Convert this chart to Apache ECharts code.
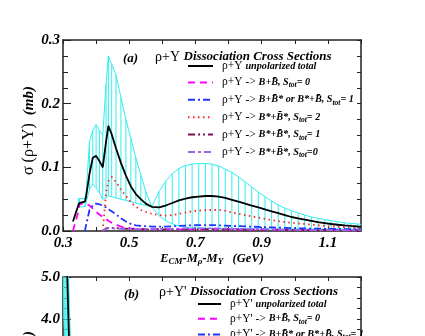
<!DOCTYPE html>
<html>
<head>
<meta charset="utf-8">
<script src="https://cdn.jsdelivr.net/npm/echarts@6.0.0/dist/echarts.min.js"></script>
<style>
html, body { margin: 0; padding: 0; background: #fff; overflow: hidden; }
/* taller than the window: panel (b) is cut off at the bottom like in the original */
#chart { width: 425px; height: 520px; }
</style>
</head>
<body>
<div id="chart"></div>
<script>
// panel (a): rho + Upsilon, energy above threshold in GeV
const energyA = [0.33, 0.346, 0.35, 0.366, 0.37, 0.38, 0.39, 0.40, 0.41, 0.42, 0.43, 0.437, 0.447, 0.46, 0.475, 0.49, 0.505, 0.52, 0.535, 0.55, 0.568, 0.59, 0.61, 0.63, 0.65, 0.67, 0.69, 0.71, 0.73, 0.75, 0.77, 0.79, 0.81, 0.83, 0.85, 0.87, 0.89, 0.91, 0.93, 0.95, 0.97, 0.99, 1.01, 1.03, 1.05, 1.07, 1.09, 1.11, 1.13, 1.15, 1.17, 1.19, 1.2];
const totalA    = [0.015, 0.040, 0.044, 0.046, 0.055, 0.090, 0.115, 0.118, 0.110, 0.100, 0.140, 0.165, 0.152, 0.130, 0.107, 0.087, 0.070, 0.058, 0.050, 0.043, 0.038, 0.037, 0.040, 0.044, 0.048, 0.051, 0.053, 0.054, 0.055, 0.055, 0.054, 0.052, 0.049, 0.046, 0.043, 0.040, 0.037, 0.034, 0.031, 0.028, 0.025, 0.022, 0.020, 0.018, 0.016, 0.014, 0.0125, 0.011, 0.0098, 0.0088, 0.0079, 0.0071, 0.0068];
const bandHighA = [null, 0.051, 0.051, 0.051, 0.060, 0.140, 0.158, 0.167, 0.158, 0.150, 0.230, 0.275, 0.262, 0.245, 0.210, 0.175, 0.145, 0.115, 0.088, 0.062, 0.038, 0.062, 0.078, 0.090, 0.098, 0.103, 0.105, 0.106, 0.106, 0.105, 0.102, 0.097, 0.092, 0.085, 0.077, 0.069, 0.061, 0.054, 0.047, 0.041, 0.036, 0.032, 0.028, 0.025, 0.022, 0.020, 0.018, 0.016, 0.0145, 0.013, 0.012, 0.011, 0.0105];
const bandLowA  = [null, 0.038, 0.038, 0.038, 0.045, 0.065, 0.074, 0.068, 0.060, 0.050, 0.052, 0.055, 0.054, 0.052, 0.050, 0.048, 0.046, 0.044, 0.042, 0.040, 0.038, 0.024, 0.016, 0.011, 0.008, 0.006, 0.005, 0.0045, 0.004, 0.004, 0.004, 0.004, 0.0038, 0.0036, 0.0035, 0.0034, 0.0033, 0.0032, 0.0031, 0.003, 0.003, 0.003, 0.003, 0.003, 0.003, 0.003, 0.003, 0.003, 0.003, 0.003, 0.003, 0.003, 0.003];
const bbS0A     = [0.0, 0.030, 0.042, 0.044, 0.043, 0.040, 0.035, 0.030, 0.026, 0.022, 0.019, 0.016, 0.013, 0.010, 0.007, 0.005, 0.004, 0.0035, 0.003, 0.0028, 0.0026, 0.0025, 0.0025, 0.0025, 0.0025, 0.0025, 0.0025, 0.0025, 0.0025, 0.0025, 0.0025, 0.0024, 0.0024, 0.0023, 0.0023, 0.0022, 0.0022, 0.0021, 0.0021, 0.002, 0.002, 0.002, 0.0019, 0.0019, 0.0018, 0.0018, 0.0017, 0.0017, 0.0016, 0.0016, 0.0015, 0.0015, 0.0015];
const bbstarS1A = [null, null, null, 0.0, 0.010, 0.033, 0.040, 0.043, 0.042, 0.040, 0.037, 0.034, 0.031, 0.026, 0.020, 0.015, 0.011, 0.009, 0.008, 0.0075, 0.007, 0.007, 0.007, 0.0075, 0.008, 0.0085, 0.009, 0.0092, 0.0093, 0.0092, 0.009, 0.0085, 0.008, 0.0076, 0.0072, 0.0068, 0.0064, 0.006, 0.0056, 0.0052, 0.0049, 0.0046, 0.0043, 0.004, 0.0038, 0.0036, 0.0034, 0.0033, 0.0032, 0.0031, 0.003, 0.003, 0.003];
const bsbsS2A   = [null, null, null, null, null, null, null, null, null, 0.0, 0.060, 0.078, 0.085, 0.077, 0.065, 0.055, 0.045, 0.038, 0.033, 0.030, 0.027, 0.025, 0.024, 0.025, 0.027, 0.029, 0.031, 0.032, 0.033, 0.033, 0.033, 0.032, 0.029, 0.027, 0.025, 0.023, 0.021, 0.019, 0.017, 0.0155, 0.014, 0.013, 0.012, 0.011, 0.010, 0.009, 0.008, 0.007, 0.0065, 0.006, 0.0055, 0.005, 0.005];
const bsbsS1A   = [null, null, null, null, null, null, null, null, null, 0.0, 0.004, 0.005, 0.005, 0.0045, 0.004, 0.0035, 0.003, 0.003, 0.0028, 0.0026, 0.0025, 0.0025, 0.0025, 0.0025, 0.0026, 0.0027, 0.0028, 0.0028, 0.0028, 0.0028, 0.0027, 0.0026, 0.0025, 0.0024, 0.0023, 0.0022, 0.0021, 0.002, 0.0019, 0.0018, 0.0017, 0.0016, 0.0015, 0.0014, 0.0013, 0.0012, 0.0012, 0.0011, 0.0011, 0.001, 0.001, 0.001, 0.001];
const bsbsS0A   = [null, null, null, null, null, null, null, null, null, 0.0, 0.003, 0.004, 0.004, 0.0038, 0.0035, 0.0032, 0.003, 0.003, 0.003, 0.003, 0.003, 0.0032, 0.0034, 0.0036, 0.0038, 0.004, 0.004, 0.004, 0.004, 0.004, 0.0039, 0.0038, 0.0036, 0.0034, 0.0032, 0.003, 0.0028, 0.0026, 0.0024, 0.0022, 0.002, 0.0019, 0.0018, 0.0017, 0.0016, 0.0015, 0.0014, 0.0013, 0.0012, 0.0012, 0.0011, 0.0011, 0.001];

// panel (b): rho + Upsilon', only its top left corner is in view
const energyB   = [0.300, 0.303, 0.306, 0.309, 0.312, 0.315, 0.318, 0.322, 0.33, 0.35, 0.40, 0.50, 0.70, 0.90, 1.20];
const totalB    = [12.0, 9.5, 7.8, 6.4, 5.3, 4.4, 3.6, 2.9, 2.1, 1.3, 0.7, 0.4, 0.25, 0.18, 0.1];
const bandHighB = [14.0, 11.5, 9.4, 7.8, 6.5, 5.6, 4.6, 3.6, 2.6, 1.7, 1.0, 0.6, 0.4, 0.3, 0.15];
const bandLowB  = [5.5, 4.0, 3.3, 2.8, 2.4, 2.0, 1.7, 1.4, 1.1, 0.7, 0.4, 0.2, 0.12, 0.08, 0.05];
const bbS0B     = [0.0, 0.4, 0.5, 0.5, 0.45, 0.4, 0.35, 0.3, 0.25, 0.18, 0.1, 0.05, 0.03, 0.02, 0.01];
const bbstarS1B = [0.0, 0.3, 0.5, 0.6, 0.6, 0.55, 0.5, 0.45, 0.4, 0.3, 0.2, 0.1, 0.06, 0.04, 0.02];

const xTicks = [0.3, 0.5, 0.7, 0.9, 1.1];
const yTicksA = [0.0, 0.1, 0.2, 0.3];
const yTicksB = [0.0, 1.0, 2.0, 3.0, 4.0, 5.0];

const namesA = [
  'ρ+Υ unpolarized total',
  'ρ+Υ -> B+B̄, S_tot= 0',
  'ρ+Υ -> B+B̄* or B*+B̄, S_tot= 1',
  'ρ+Υ -> B*+B̄*, S_tot= 2',
  'ρ+Υ -> B*+B̄*, S_tot= 1',
  'ρ+Υ -> B*+B̄*, S_tot=0'
];
const namesB = [
  'ρ+Υ\' unpolarized total',
  'ρ+Υ\' -> B+B̄, S_tot= 0',
  'ρ+Υ\' -> B+B̄* or B*+B̄, S_tot= 1'
];

const SERIF = '"Liberation Serif", "DejaVu Serif", serif';
const CYAN = '#33eeee';

// legend text: greek part upright, the reaction in bold italic, "tot" as subscript
function legendText(name) {
  const m = name.match(/^(ρ\+Υ'?)(.*)$/);
  let out = '{r|' + m[1] + ' }';
  let rest = m[2].trim();
  if (rest.indexOf('->') === 0) {
    out = '{r|' + m[1] + ' -> }';
    rest = rest.replace(/^->\s*/, '');
  }
  const parts = rest.split('_tot');
  out += '{b|' + parts[0] + '}';
  if (parts.length > 1) out += '{s|tot}{b|' + parts[1] + '}';
  return out;
}

const legendRich = {
  r: { fontFamily: SERIF, fontSize: 11.5, fontWeight: 'normal', color: '#000', lineHeight: 14, padding: [0, 0, 0, 4] },
  b: { fontFamily: SERIF, fontSize: 10.2, fontWeight: 'bold', fontStyle: 'italic', color: '#000', lineHeight: 14 },
  s: { fontFamily: SERIF, fontSize: 7.5, fontWeight: 'bold', fontStyle: 'italic', color: '#000', lineHeight: 8, verticalAlign: 'bottom' }
};

const pairs = (xs, ys) => xs.map((x, i) => [x, ys[i]]);

// vertical cyan hatching between the two edges of the uncertainty band
function hatch(xs, lo, hi, idx) {
  return {
    type: 'custom',
    xAxisIndex: idx * 2,
    yAxisIndex: idx * 2,
    silent: true,
    z: 1,
    data: xs.map((x, i) => [x, lo[i], hi[i]]).filter(d => d[1] != null),
    renderItem: (params, api) => {
      const a = api.coord([api.value(0), api.value(1)]);
      const b = api.coord([api.value(0), api.value(2)]);
      const cs = params.coordSys;
      return {
        type: 'line',
        shape: { x1: a[0], y1: a[1], x2: b[0], y2: b[1] },
        style: { stroke: CYAN, lineWidth: 1 },
        clipPath: { type: 'rect', shape: { x: cs.x, y: cs.y, width: cs.width, height: cs.height } }
      };
    }
  };
}

function line(name, xs, ys, idx, color, type, width, z) {
  return {
    name: name, type: 'line', xAxisIndex: idx * 2, yAxisIndex: idx * 2,
    data: pairs(xs, ys), symbol: 'none', smooth: false, z: z || 3,
    lineStyle: { color: color, type: type, width: width },
    itemStyle: { color: color }
  };
}

function bandEdge(xs, ys, idx) {
  return {
    type: 'line', xAxisIndex: idx * 2, yAxisIndex: idx * 2, silent: true,
    data: pairs(xs, ys), symbol: 'none', z: 2,
    lineStyle: { color: CYAN, width: 1 }
  };
}

const labelFont = { fontFamily: SERIF, fontSize: 15, fontWeight: 'bold', fontStyle: 'italic', color: '#000' };
const axisLine = { show: true, onZero: false, lineStyle: { color: '#222', width: 1.5 } };

function xAxes(grid, showName) {
  return [
    {
      type: 'value', gridIndex: grid, position: 'bottom', min: 0.3, max: 1.2, interval: 0.1,
      axisLine: axisLine,
      axisTick: { inside: true, length: 4, lineStyle: { color: '#222' } },
      splitLine: { show: false },
      axisLabel: Object.assign({}, labelFont, {
        margin: 5, showMaxLabel: false,
        formatter: v => xTicks.some(t => Math.abs(t - v) < 1e-6) ? v.toFixed(1) : ''
      }),
      name: showName ? '{b|E}{s|CM}{b|-M}{s|ρ}{b|-M}{s|Υ}{b|   (GeV)}' : '',
      nameLocation: 'middle', nameGap: 14,
      nameTextStyle: { rich: {
        b: { fontFamily: SERIF, fontSize: 12.5, fontWeight: 'bold', fontStyle: 'italic', color: '#000', lineHeight: 15 },
        s: { fontFamily: SERIF, fontSize: 9, fontWeight: 'bold', fontStyle: 'italic', color: '#000', lineHeight: 9, verticalAlign: 'bottom' }
      } }
    },
    {
      type: 'value', gridIndex: grid, position: 'top', min: 0.3, max: 1.2, interval: 0.1,
      axisLine: axisLine,
      axisTick: { inside: true, length: 4, lineStyle: { color: '#222' } },
      splitLine: { show: false }, axisLabel: { show: false }
    }
  ];
}

function yAxes(grid, max, interval, minorSplit, ticks, name) {
  return [
    {
      type: 'value', gridIndex: grid, position: 'left', min: 0, max: max, interval: interval,
      axisLine: axisLine,
      axisTick: { inside: true, length: 8, lineStyle: { color: '#222' } },
      minorTick: { show: true, splitNumber: minorSplit, length: 5, lineStyle: { color: '#222' } },
      splitLine: { show: false },
      axisLabel: Object.assign({}, labelFont, {
        margin: 3,
        formatter: v => ticks.some(t => Math.abs(t - v) < 1e-6) ? v.toFixed(1) : ''
      }),
      name: name, nameLocation: 'middle', nameRotate: 90, nameGap: 26, nameMoveOverlap: false,
      nameTextStyle: { padding: [0, 0, 0, 10], rich: {
        r: { fontFamily: SERIF, fontSize: 16, color: '#000' },
        b: { fontFamily: SERIF, fontSize: 15, fontWeight: 'bold', fontStyle: 'italic', color: '#000' }
      } }
    },
    {
      type: 'value', gridIndex: grid, position: 'right', min: 0, max: max, interval: interval / minorSplit,
      axisLine: axisLine,
      axisTick: { inside: true, length: 4, lineStyle: { color: '#222' } },
      splitLine: { show: false }, axisLabel: { show: false }
    }
  ];
}

const titleRich = {
  r: { fontFamily: SERIF, fontSize: 14, fontWeight: 'normal', color: '#000' },
  b: { fontFamily: SERIF, fontSize: 13, fontWeight: 'bold', fontStyle: 'italic', color: '#000' }
};

const legendBase = {
  orient: 'vertical', itemWidth: 25, itemHeight: 14, padding: 0,
  selectedMode: false, formatter: legendText,
  itemStyle: { opacity: 0 },
  textStyle: { rich: legendRich }
};

const chart = echarts.init(document.getElementById('chart'), null, { renderer: 'canvas' });

const option = {
  animation: false,
  backgroundColor: '#fff',
  grid: [
    { left: 63, top: 40, width: 298, height: 191 },
    { left: 63, top: 277, width: 298, height: 210 }
  ],
  title: [
    { text: '{b|(a)}', left: 118, top: 47, textStyle: { rich: titleRich } },
    { text: '{r|ρ+Υ }{b|Dissociation Cross Sections}', left: 150, top: 45, textStyle: { rich: titleRich } },
    { text: '{b|(b)}', left: 119, top: 283, textStyle: { rich: titleRich } },
    { text: '{r|ρ+Υ\' }{b|Dissociation Cross Sections}', left: 154, top: 280, textStyle: { rich: titleRich } }
  ],
  legend: [
    Object.assign({}, legendBase, { data: namesA, left: 187, top: 60, itemGap: 4.4 }),
    Object.assign({}, legendBase, { data: namesB, left: 197, top: 298, itemWidth: 23, itemGap: 2.7 })
  ],
  xAxis: [].concat(xAxes(0, true), xAxes(1, false)),
  yAxis: [].concat(
    yAxes(0, 0.3, 0.1, 4, yTicksA, '{r|σ (ρ+Υ)  }{b|(mb)}'),
    yAxes(1, 5.0, 1.0, 4, yTicksB, '{r|σ (ρ+Υ\')  }{b|(mb)}')
  ),
  series: [
    hatch(energyA, bandLowA, bandHighA, 0),
    bandEdge(energyA, bandHighA, 0),
    bandEdge(energyA, bandLowA, 0),
    line(namesA[0], energyA, totalA, 0, '#000', 'solid', 1.8, 5),
    line(namesA[1], energyA, bbS0A, 0, '#ff00ff', [7, 5], 1.8),
    line(namesA[2], energyA, bbstarS1A, 0, '#2233ff', [7, 3, 2, 3], 1.8),
    line(namesA[3], energyA, bsbsS2A, 0, '#ff2020', [1.5, 3.5], 1.8),
    line(namesA[4], energyA, bsbsS1A, 0, '#801050', [7, 3, 2, 3, 2, 3], 1.8),
    line(namesA[5], energyA, bsbsS0A, 0, '#9966ee', [7, 3, 3, 3], 1.8),

    hatch(energyB, bandLowB, bandHighB, 1),
    bandEdge(energyB, bandHighB, 1),
    bandEdge(energyB, bandLowB, 1),
    line(namesB[0], energyB, totalB, 1, '#000', 'solid', 1.8, 5),
    line(namesB[1], energyB, bbS0B, 1, '#ff00ff', [7, 5], 1.8),
    line(namesB[2], energyB, bbstarS1B, 1, '#2233ff', [7, 3, 2, 3], 1.8)
  ]
};

chart.setOption(option);
window.addEventListener('resize', () => chart.resize());
</script>
</body>
</html>
